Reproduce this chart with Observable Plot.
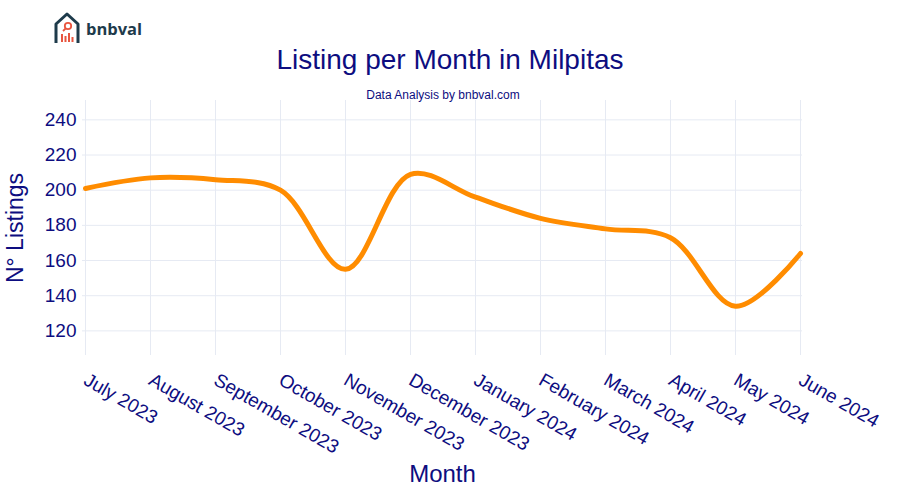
<!DOCTYPE html>
<html>
<head>
<meta charset="utf-8">
<script src="https://cdn.jsdelivr.net/npm/d3@7"></script>
<script src="https://cdn.jsdelivr.net/npm/@observablehq/plot@0.6"></script>
<style>
  html, body { margin: 0; padding: 0; background: #fff; }
  #wrap { position: relative; width: 900px; height: 500px; font-family: "Liberation Sans", Arial, sans-serif; }
  #title { position: absolute; left: 0; width: 900px; top: 44px; text-align: center; font-size: 28px; color: #0d0d80; }
  #subtitle { position: absolute; left: 0; width: 886px; top: 88px; text-align: center; font-size: 12px; color: #0d0d80; }
  #logo { position: absolute; left: 53px; top: 11px; display: flex; align-items: center; }
  #logo span { font-weight: bold; font-size: 16.5px; color: #1e3b4b; margin-left: 5px; font-family: "Open Sans", "Liberation Sans", sans-serif; }
  #chart { position: absolute; left: 0; top: 0; }
</style>
</head>
<body>
<div id="wrap">
  <div id="chart"></div>
  <div id="logo">
    <svg width="28" height="34" viewBox="0 0 28 34">
      <path d="M3 32 V13 L14 3 L25 13 V32" fill="none" stroke="#1e3b4b" stroke-width="3" stroke-linejoin="round"/>
      <circle cx="15" cy="15" r="3.2" fill="none" stroke="#e8553f" stroke-width="1.8"/>
      <line x1="12.8" y1="17.3" x2="10" y2="20" stroke="#e8553f" stroke-width="1.8"/>
      <rect x="8" y="23" width="2" height="8" fill="#e8553f"/>
      <rect x="11.5" y="25" width="2" height="6" fill="#e8553f"/>
      <rect x="15" y="22" width="2" height="9" fill="#e8553f"/>
      <rect x="18.5" y="26" width="2" height="5" fill="#e8553f"/>
    </svg>
    <span>bnbval</span>
  </div>
  <div id="title">Listing per Month in Milpitas</div>
  <div id="subtitle">Data Analysis by bnbval.com</div>
</div>
<script>
const months = ["July 2023","August 2023","September 2023","October 2023","November 2023","December 2023","January 2024","February 2024","March 2024","April 2024","May 2024","June 2024"];
const listings = [201, 207, 206, 200, 155, 209, 196, 184, 178, 173, 134, 164];
const yTicks = [120, 140, 160, 180, 200, 220, 240];

const data = months.map((m, i) => ({month: m, value: listings[i]}));
const navy = "#0d0d80";

const chart = Plot.plot({
  width: 900,
  height: 500,
  marginTop: 100,
  marginBottom: 145,
  marginLeft: 82,
  marginRight: 98,
  style: {fontFamily: "'Liberation Sans', Arial, sans-serif", fontSize: "19px", color: navy, background: "transparent"},
  x: {type: "point", domain: months, padding: 0, label: null},
  y: {domain: [106, 251], label: null},
  marks: [
    Plot.gridX(months, {stroke: "#e6eaf3", strokeOpacity: 1}),
    Plot.gridY(yTicks, {stroke: "#e6eaf3", strokeOpacity: 1}),
    Plot.axisY(yTicks, {tickSize: 0, tickPadding: 6, label: null}),
    Plot.axisX({tickRotate: 30, tickSize: 0, tickPadding: 23, label: null}),
    Plot.line(data, {x: "month", y: "value", curve: "catmull-rom", stroke: "#ff8c00", strokeWidth: 5}),
    Plot.text(["N° Listings"], {frameAnchor: "left", dx: -67, rotate: -90, textAnchor: "middle", fontSize: 23, fill: navy}),
    Plot.text(["Month"], {frameAnchor: "bottom", dy: 126, fontSize: 24, fill: navy})
  ]
});
document.getElementById("chart").appendChild(chart);
</script>
</body>
</html>
